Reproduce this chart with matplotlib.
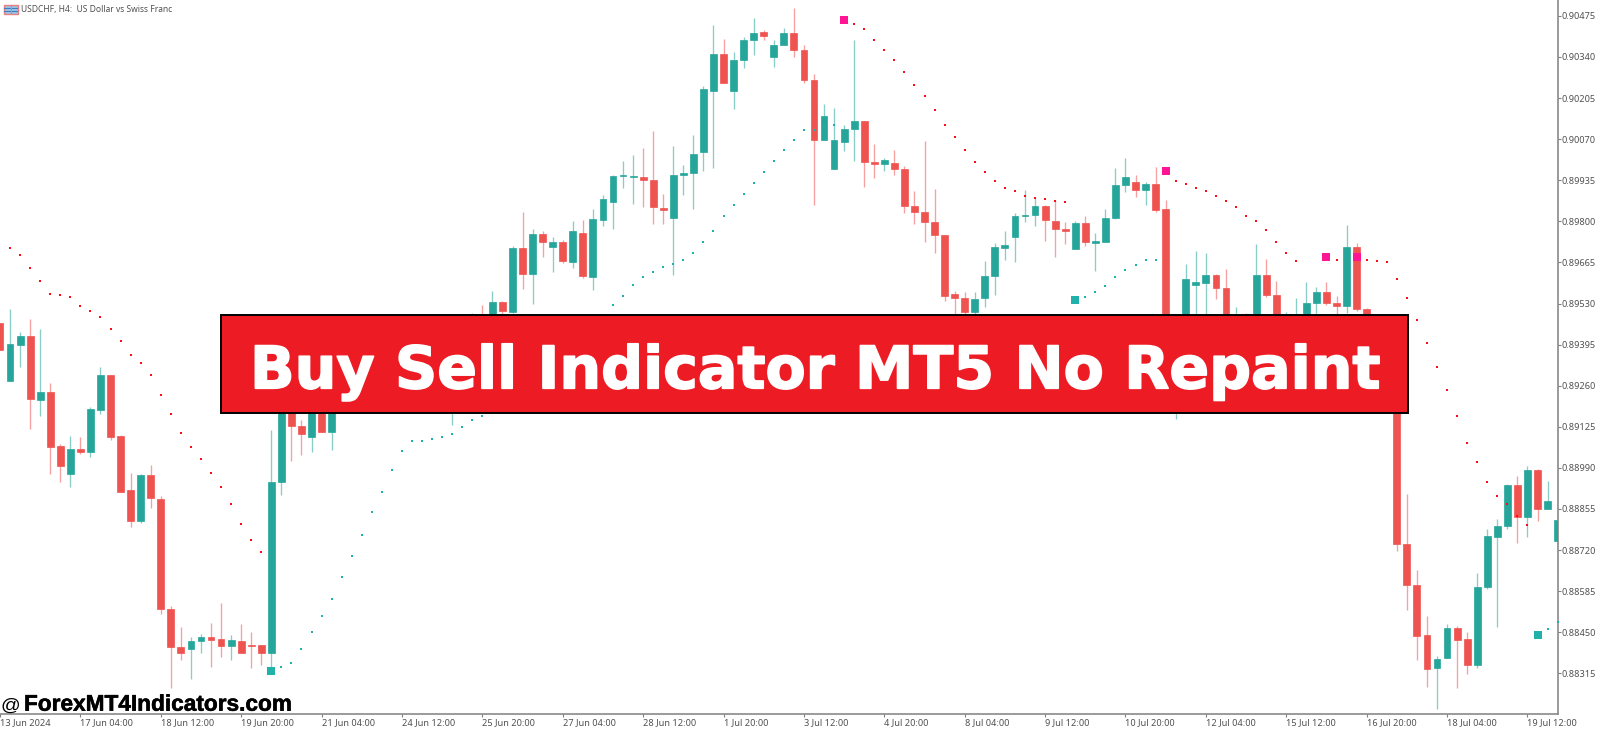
import numpy as np
import matplotlib
matplotlib.use("Agg")
import matplotlib.pyplot as plt
import matplotlib.patches as patches
import matplotlib.patheffects as path_effects
import matplotlib.transforms as mtransforms

# prices in points (0.00001), bar -1 is the half visible one at the left edge
opens = [89466, 89276, 89395, 89422, 89213, 89240, 89061, 88971, 89051, 89043,
         89181, 89294, 89094, 88918, 88817, 88966, 88888, 88525, 88402, 88394,
         88420, 88435, 88427, 88406, 88422, 88408, 88407, 88383, 88943, 89338,
         89129, 89091, 89262, 89109, 89197, 89239, 89213, 89272, 89318, 89292,
         89338, 89371, 89351, 89394, 89423, 89410, 89443, 89459, 89496, 89459,
         89536, 89503, 89713, 89626, 89758, 89716, 89732, 89666, 89762, 89617,
         89805, 89863, 89950, 89946, 89946, 89936, 89844, 89810, 89952, 89960,
         90029, 90227, 90351, 90229, 90330, 90396, 90421, 90340, 90379, 90419,
         90363, 90264, 90068, 89972, 90060, 90103, 90129, 89996, 89987, 89992,
         89971, 89851, 89831, 89798, 89754, 89561, 89548, 89502, 89548, 89619,
         89712, 89747, 89817, 89820, 89851, 89802, 89774, 89710, 89795, 89730,
         89731, 89811, 89919, 89929, 89902, 89924, 89839, 89305, 89394, 89590,
         89598, 89623, 89581, 89394, 89476, 89410, 89625, 89558, 89394, 89410,
         89410, 89531, 89568, 89531, 89523, 89717, 89512, 89377, 89361, 89328,
         88741, 88604, 88440, 88332, 88365, 88463, 88429, 88342, 88598, 88762,
         88798, 88933, 88829, 88983, 88854, 88749]
highs = [89466, 89513, 89435, 89480, 89445, 89269, 89067, 89095, 89091, 89191,
         89321, 89294, 89098, 88973, 88970, 88999, 88898, 88536, 88467, 88433,
         88443, 88480, 88545, 88441, 88477, 88450, 88407, 89113, 89410, 89394,
         89147, 89295, 89279, 89262, 89279, 89262, 89295, 89344, 89338, 89361,
         89394, 89384, 89417, 89443, 89436, 89469, 89482, 89499, 89524, 89570,
         89538, 89719, 89830, 89775, 89767, 89748, 89739, 89801, 89803, 89841,
         89885, 89951, 89998, 90018, 90040, 90097, 89889, 90047, 89984, 90083,
         90244, 90444, 90399, 90357, 90406, 90467, 90427, 90395, 90435, 90502,
         90379, 90283, 90186, 90172, 90115, 90395, 90130, 90054, 90007, 90034,
         89981, 89900, 90063, 89907, 89755, 89570, 89569, 89569, 89670, 89728,
         89769, 89826, 89903, 89876, 89854, 89870, 89799, 89801, 89817, 89761,
         89839, 89974, 90008, 89951, 89930, 89979, 89869, 89469, 89660, 89703,
         89697, 89627, 89642, 89518, 89498, 89725, 89675, 89603, 89501, 89547,
         89600, 89583, 89600, 89554, 89788, 89728, 89514, 89410, 89394, 89377,
         88903, 88655, 88502, 88372, 88477, 88471, 88450, 88646, 88788, 88823,
         88936, 88962, 88997, 88985, 88948, 88881]
lows = [89377, 89276, 89320, 89118, 89161, 88971, 88945, 88927, 89037, 89026,
        89167, 89082, 88911, 88797, 88810, 88859, 88510, 88268, 88358, 88297,
        88381, 88337, 88370, 88359, 88381, 88333, 88343, 88335, 88901, 89013,
        89031, 89042, 89109, 89048, 89177, 89180, 89187, 89229, 89246, 89252,
        89295, 89312, 89305, 89344, 89328, 89131, 89394, 89410, 89394, 89417,
        89492, 89500, 89578, 89529, 89684, 89634, 89664, 89648, 89614, 89574,
        89785, 89776, 89910, 89857, 89848, 89792, 89792, 89624, 89887, 89840,
        89964, 89975, 90255, 90170, 90305, 90346, 90396, 90308, 90379, 90340,
        90255, 89855, 90068, 89972, 90030, 89999, 89913, 89941, 89966, 89952,
        89826, 89791, 89733, 89697, 89539, 89443, 89469, 89459, 89520, 89558,
        89673, 89667, 89799, 89786, 89736, 89683, 89726, 89710, 89719, 89638,
        89731, 89807, 89897, 89881, 89854, 89830, 89197, 89151, 89344, 89394,
        89492, 89545, 89394, 89344, 89328, 89361, 89552, 89344, 89344, 89361,
        89377, 89476, 89524, 89443, 89498, 89505, 89295, 89295, 89262, 88718,
        88524, 88358, 88271, 88199, 88365, 88267, 88313, 88332, 88592, 88468,
        88788, 88744, 88764, 88815, 88854, 88696]
closes = [89377, 89396, 89422, 89215, 89238, 89060, 88996, 89051, 89043, 89182,
          89294, 89092, 88911, 88817, 88966, 88891, 88525, 88403, 88381, 88420,
          88434, 88426, 88406, 88425, 88381, 88405, 88383, 88944, 89344, 89129,
          89102, 89262, 89109, 89229, 89252, 89203, 89279, 89328, 89285, 89344,
          89377, 89338, 89400, 89427, 89384, 89456, 89469, 89496, 89443, 89535,
          89504, 89713, 89626, 89758, 89733, 89732, 89669, 89767, 89619, 89807,
          89872, 89949, 89952, 89949, 89935, 89847, 89838, 89952, 89959, 90022,
          90236, 90351, 90255, 90330, 90396, 90419, 90409, 90379, 90419, 90363,
          90263, 90068, 90145, 90066, 90103, 90130, 89994, 89987, 90000, 89973,
          89851, 89831, 89799, 89756, 89556, 89547, 89502, 89546, 89620, 89716,
          89721, 89818, 89821, 89851, 89803, 89774, 89768, 89795, 89731, 89734,
          89812, 89919, 89946, 89902, 89924, 89838, 89229, 89443, 89610, 89600,
          89625, 89580, 89427, 89476, 89410, 89625, 89557, 89394, 89443, 89459,
          89532, 89568, 89531, 89523, 89715, 89511, 89344, 89338, 89295, 88740,
          88604, 88439, 88330, 88363, 88463, 88426, 88342, 88599, 88765, 88799,
          88934, 88829, 88983, 88854, 88881, 88818]

# indicator dots, each list starts at the bar given next to it
red_dots_a = [89711, 89688, 89647, 89605, 89562, 89558, 89550, 89521, 89504, 89486,
              89446, 89407, 89362, 89334, 89294, 89229, 89168, 89106, 89059, 89019,
              88973, 88927, 88870, 88806, 88753, 88715]
red_a_start = 0
green_dots_a = [88336, 88350, 88396, 88452, 88503, 88559, 88632, 88701, 88769, 88845,
                88912, 88983, 89044, 89077, 89078, 89085, 89092, 89102, 89125, 89148,
                89161, 89197, 89220, 89239, 89262, 89285, 89312, 89338, 89364, 89394,
                89427, 89459, 89492, 89525, 89555, 89591, 89617, 89634, 89650, 89659,
                89674, 89695, 89732, 89769, 89817, 89854, 89891, 89926, 89963, 89998,
                90033, 90068, 90099, 90100, 90114, 90117]
green_a_start = 27
red_dots_b = [90448, 90432, 90397, 90363, 90330, 90292, 90249, 90211, 90167, 90117,
              90078, 90033, 89996, 89961, 89933, 89910, 89899, 89884, 89877, 89872,
              89868, 89863]
red_b_start = 84
green_dots_b = [89552, 89567, 89589, 89617, 89641, 89657, 89673, 89674]
green_b_start = 107
red_dots_c = [89933, 89922, 89909, 89900, 89882, 89866, 89847, 89818, 89800, 89771,
              89732, 89696, 89670]
red_c_start = 116
red_dots_d = [89674]
red_d_start = 132
red_dots_e = [89672, 89670, 89665, 89612, 89548, 89476, 89399, 89321, 89245, 89159,
              89073, 89010, 88945, 88899, 88871, 88833, 88802]
red_e_start = 135
green_dots_c = [88461, 88485]
green_c_start = 153

sell_bars = [83, 115, 131, 134]
sell_prices = [90462, 89965, 89683, 89683]
buy_bars = [26, 106, 152]
buy_prices = [88324, 89542, 88440]

price_ticks = [88315, 88450, 88585, 88720, 88855, 88990, 89125, 89260, 89395,
               89530, 89665, 89800, 89935, 90070, 90205, 90340, 90475]
time_tick_bars = [-1, 7, 15, 23, 31, 39, 47, 55, 63, 71, 79, 87, 95, 103, 111, 119, 127, 135, 143, 151]
time_labels = ["13 Jun 2024", "17 Jun 04:00", "18 Jun 12:00", "19 Jun 20:00", "21 Jun 04:00",
               "24 Jun 12:00", "25 Jun 20:00", "27 Jun 04:00", "28 Jun 12:00", "1 Jul 20:00",
               "3 Jul 12:00", "4 Jul 20:00", "8 Jul 04:00", "9 Jul 12:00", "10 Jul 20:00",
               "12 Jul 04:00", "15 Jul 12:00", "16 Jul 20:00", "18 Jul 04:00", "19 Jul 12:00"]

UP = "#26A69A"
DOWN = "#EF5350"
RED_DOT = "#FF0A14"
TEAL_DOT = "#20B2AA"
PINK = "#FF1493"
AXIS_GRAY = "#808080"
TEXT_GRAY = "#505050"

W, H = 1600, 729
AXIS_X, AXIS_Y = 1558, 713.7

fig = plt.figure(figsize=(W / 100, H / 100), dpi=100, facecolor="white")
ax = fig.add_axes([0, (H - AXIS_Y) / H, AXIS_X / W, AXIS_Y / H])
# image pixels -> figure, for the overlay stuff
px = mtransforms.Affine2D().scale(1 / W, -1 / H).translate(0, 1) + fig.transFigure

opens = np.array(opens) / 1e5
highs = np.array(highs) / 1e5
lows = np.array(lows) / 1e5
closes = np.array(closes) / 1e5
bars = np.arange(len(opens)) - 1
is_up = closes >= opens
colors = np.where(is_up, UP, DOWN)

ax.vlines(bars, lows, highs, colors=colors, linewidth=0.95, alpha=0.55, zorder=2)
ax.bar(bars, np.abs(closes - opens), bottom=np.minimum(opens, closes), width=0.68,
       color=colors, edgecolor=colors, linewidth=0.5, zorder=3)


def draw_dots(start, values, color):
    xs = np.arange(len(values)) + start
    ax.scatter(xs, np.array(values) / 1e5, s=2.2, marker="s", color=color, linewidths=0, zorder=4)


draw_dots(red_a_start, red_dots_a, RED_DOT)
draw_dots(red_b_start, red_dots_b, RED_DOT)
draw_dots(red_c_start, red_dots_c, RED_DOT)
draw_dots(red_d_start, red_dots_d, RED_DOT)
draw_dots(red_e_start, red_dots_e, RED_DOT)
draw_dots(green_a_start, green_dots_a, TEAL_DOT)
draw_dots(green_b_start, green_dots_b, TEAL_DOT)
draw_dots(green_c_start, green_dots_c, TEAL_DOT)

ax.scatter(sell_bars, np.array(sell_prices) / 1e5, s=26, marker="s", color=PINK, linewidths=0, zorder=5)
ax.scatter(buy_bars, np.array(buy_prices) / 1e5, s=26, marker="s", color=TEAL_DOT, linewidths=0, zorder=5)

ax.set_xlim(-0.895, 154.04)
ax.set_ylim(0.881825, 0.90527)

ax.spines["top"].set_visible(False)
ax.spines["left"].set_visible(False)
ax.spines["right"].set_color(AXIS_GRAY)
ax.spines["bottom"].set_color(AXIS_GRAY)
ax.spines["right"].set_linewidth(1.1)
ax.spines["bottom"].set_linewidth(1.1)

ax.yaxis.tick_right()
ax.set_yticks(np.array(price_ticks) / 1e5)
ax.set_yticklabels(["%.5f" % (p / 1e5) for p in price_ticks])
ax.set_xticks(time_tick_bars)
ax.set_xticklabels(time_labels, ha="left")
ax.tick_params(axis="y", length=2.2, width=0.8, color=AXIS_GRAY, pad=0.5,
               labelsize=6.6, labelcolor=TEXT_GRAY)
ax.tick_params(axis="x", length=2.4, width=0.8, color=AXIS_GRAY, pad=0.8,
               labelsize=6.6, labelcolor=TEXT_GRAY)
for lab in ax.get_xticklabels() + ax.get_yticklabels():
    lab.set_fontfamily("Noto Sans")

# red banner over the middle of the chart
banner = patches.Rectangle((220.5, 315.3), 1187.5, 98.2, transform=px, facecolor="#ED1C24",
                           edgecolor="black", linewidth=1.4, clip_on=False, zorder=20)
ax.add_patch(banner)
title = ax.text(815, 388.3, "Buy Sell Indicator MT5 No Repaint", transform=px, color="white",
                fontsize=42.2, fontweight="bold", family="DejaVu Sans",
                ha="center", va="baseline", zorder=21, clip_on=False)
title.set_path_effects([path_effects.withStroke(linewidth=1.2, foreground="white")])

ax.text(0.5, 710.7, "@", transform=px, color="black", fontsize=14,
        family="Liberation Sans", ha="left", va="baseline", zorder=21, clip_on=False)
site = ax.text(24, 710.7, "ForexMT4Indicators.com", transform=px, color="black", fontsize=16.3,
               fontweight="bold", family="Liberation Sans", ha="left", va="baseline", zorder=21,
               clip_on=False)
site.set_path_effects([path_effects.withStroke(linewidth=0.4, foreground="black")])

# symbol line, top left, with the little table icon
ax.add_patch(patches.Rectangle((3.5, 4.5), 14, 9.5, transform=px, facecolor="#9CC4E8",
                               edgecolor="#E88080", linewidth=1, clip_on=False, zorder=21))
ax.plot([4, 17], [7.7, 7.7], transform=px, color="#3F7FC0", linewidth=0.8, zorder=22, clip_on=False)
ax.plot([4, 17], [10.9, 10.9], transform=px, color="#3F7FC0", linewidth=0.8, zorder=22, clip_on=False)
ax.plot([10.5, 10.5], [5, 13.5], transform=px, color="#E88080", linewidth=0.8, zorder=22, clip_on=False)
ax.text(21, 9.5, "USDCHF, H4:  US Dollar vs Swiss Franc", transform=px, color=TEXT_GRAY,
        fontsize=6.1, family="Noto Sans", ha="left", va="center", zorder=21, clip_on=False)

fig.savefig("out.png", dpi=100, facecolor="white")
